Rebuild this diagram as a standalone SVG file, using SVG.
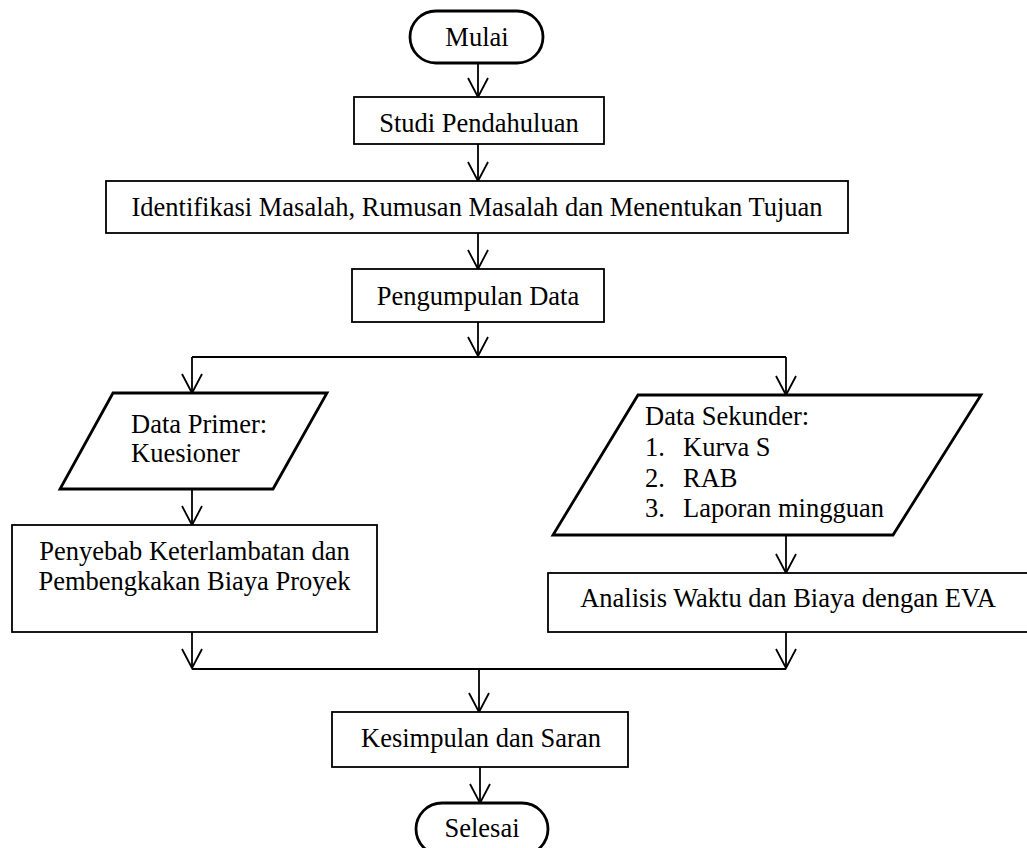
<svg xmlns="http://www.w3.org/2000/svg" width="1027" height="848" viewBox="0 0 1027 848">
<style>
text{font-family:"Liberation Serif","Times New Roman",serif;font-size:26.5px;fill:#000}
.c{text-anchor:middle}
.box{fill:#fff;stroke:#000;stroke-width:1.8}
.thick{fill:#fff;stroke:#000;stroke-width:2.8}
.ln{fill:none;stroke:#000;stroke-width:1.8}
</style>
<defs>
<marker id="ah" markerUnits="userSpaceOnUse" viewBox="-22 -12 24 24" markerWidth="24" markerHeight="24" refX="0" refY="0" orient="auto">
<path d="M-19,-10 L0,0 L-19,10" fill="none" stroke="#000" stroke-width="1.8"/>
</marker>
</defs>
<g id="connectors">
<line class="ln" x1="478" y1="63" x2="478" y2="97" marker-end="url(#ah)"/>
<line class="ln" x1="478" y1="144" x2="478" y2="181" marker-end="url(#ah)"/>
<line class="ln" x1="478" y1="233" x2="478" y2="269" marker-end="url(#ah)"/>
<line class="ln" x1="478" y1="322" x2="478" y2="356" marker-end="url(#ah)"/>
<line class="ln" x1="192" y1="357" x2="786" y2="357"/>
<line class="ln" x1="192" y1="357" x2="192" y2="393" marker-end="url(#ah)"/>
<line class="ln" x1="786" y1="357" x2="786" y2="395" marker-end="url(#ah)"/>
<line class="ln" x1="192" y1="489" x2="192" y2="525" marker-end="url(#ah)"/>
<line class="ln" x1="786" y1="535" x2="786" y2="573" marker-end="url(#ah)"/>
<line class="ln" x1="192" y1="632" x2="192" y2="668" marker-end="url(#ah)"/>
<line class="ln" x1="786" y1="632" x2="786" y2="668" marker-end="url(#ah)"/>
<line class="ln" x1="192" y1="669" x2="786" y2="669"/>
<line class="ln" x1="479" y1="670" x2="479" y2="712" marker-end="url(#ah)"/>
<line class="ln" x1="480" y1="767" x2="480" y2="803" marker-end="url(#ah)"/>
</g>
<g id="mulai">
<rect class="thick" x="410" y="11" width="133" height="52" rx="26" ry="26"/>
<text class="c" x="477" y="46">Mulai</text>
</g>
<g id="studi">
<rect class="box" x="354" y="97" width="250" height="47"/>
<text class="c" x="479" y="132">Studi Pendahuluan</text>
</g>
<g id="identifikasi">
<rect class="box" x="106" y="181" width="742" height="52"/>
<text class="c" x="477" y="216">Identifikasi Masalah, Rumusan Masalah dan Menentukan Tujuan</text>
</g>
<g id="pengumpulan">
<rect class="box" x="352" y="269" width="252" height="53"/>
<text class="c" x="478" y="305">Pengumpulan Data</text>
</g>
<g id="primer">
<polygon class="thick" points="113,393 327,393 273,489 60,489"/>
<text x="131" y="433">Data Primer:</text>
<text x="131" y="462">Kuesioner</text>
</g>
<g id="sekunder">
<polygon class="thick" points="638,395 981,395 893,535 553,535"/>
<text x="645" y="425">Data Sekunder:</text>
<text x="645" y="456">1.</text><text x="683" y="456">Kurva S</text>
<text x="645" y="487">2.</text><text x="683" y="487">RAB</text>
<text x="645" y="517">3.</text><text x="683" y="517">Laporan mingguan</text>
</g>
<g id="penyebab">
<rect class="box" x="12" y="525" width="365" height="107"/>
<text class="c" x="194.5" y="560">Penyebab Keterlambatan dan</text>
<text class="c" x="194.5" y="590">Pembengkakan Biaya Proyek</text>
</g>
<g id="analisis">
<rect class="box" x="548" y="573" width="480" height="59"/>
<text class="c" x="788" y="607">Analisis Waktu dan Biaya dengan EVA</text>
</g>
<g id="kesimpulan">
<rect class="box" x="332" y="712" width="296" height="55"/>
<text class="c" x="481" y="747">Kesimpulan dan Saran</text>
</g>
<g id="selesai">
<rect class="thick" x="416" y="803" width="132" height="52" rx="26" ry="26"/>
<text class="c" x="482" y="837">Selesai</text>
</g>
</svg>
